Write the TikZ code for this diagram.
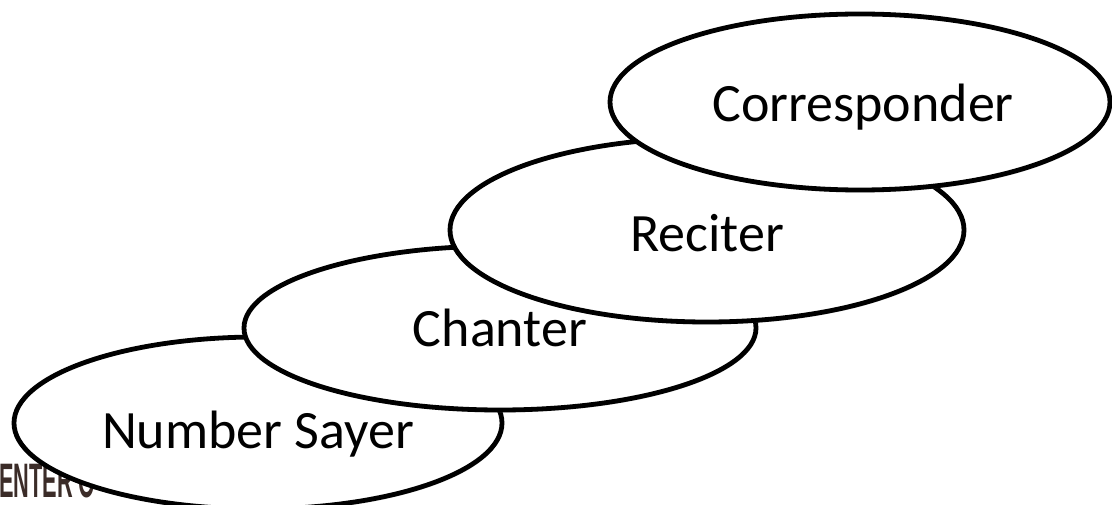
\documentclass[tikz,border=0pt]{standalone}
\usepackage{fontspec}
\setmainfont{Carlito}
\newfontfamily\logofont{Liberation Sans}
\usetikzlibrary{shapes.geometric,shadows}
\definecolor{logobrown}{RGB}{59,44,40}

\begin{document}
\begin{tikzpicture}[x=1pt, y=-1pt,
	ring/.style={ellipse, draw=black, line width=4.8pt, fill=white, inner sep=0pt,
		drop shadow={shadow xshift=1pt, shadow yshift=-2.5pt, opacity=0.3}},
	word/.style={inner sep=0pt, font=\fontsize{54}{60}\selectfont},
	logo/.style={anchor=base west, inner sep=0pt, text=logobrown, xscale=0.53, yscale=1.18, transform shape,
		font=\logofont\bfseries\fontsize{41}{44}\selectfont}
]
	\clip (0,0) rectangle (1112,505);
	% lettering behind the first ring
	\node[logo] (logo) at (-1,497) {ENTER O};
	% the four rings, each one laid over the last
	\node[ring, minimum width=488pt, minimum height=172pt] (sayer) at (258,423) {};
	\node[word, yshift=-11pt] (sayertext) at (sayer) {Number Sayer};
	\node[ring, minimum width=512pt, minimum height=164pt] (chant) at (500,328) {};
	\node[word] (chanttext) at (chant) {Chanter};
	\node[ring, minimum width=514pt, minimum height=184pt] (recite) at (707,230) {};
	\node[word, yshift=-3pt] (recitetext) at (recite) {Reciter};
	\node[ring, minimum width=500pt, minimum height=176pt] (corr) at (860,102) {};
	\node[word, xshift=3pt, yshift=-5pt] (corrtext) at (corr) {Corresponder};
\end{tikzpicture}
\end{document}
